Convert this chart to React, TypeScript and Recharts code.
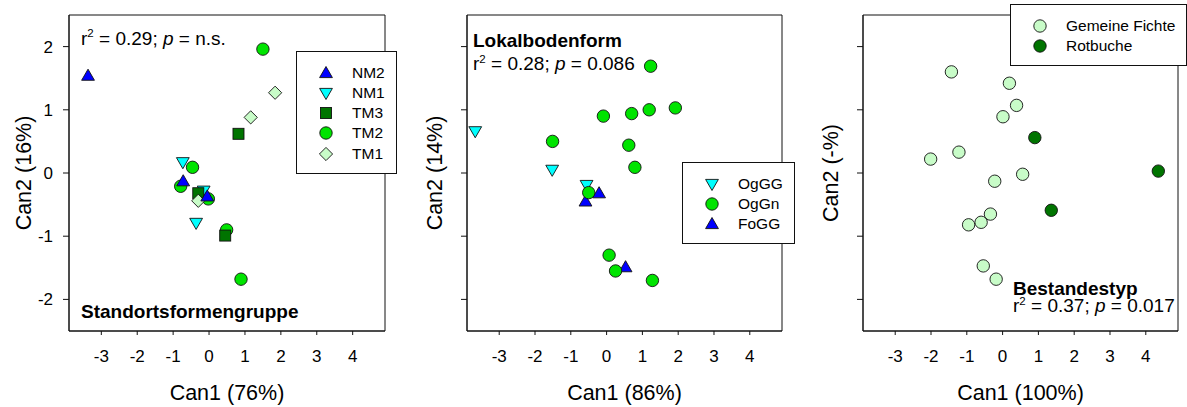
import React from "react";
import { ScatterChart, Scatter, XAxis, YAxis, Legend, ReferenceArea } from "recharts";

// canonical scores
const NM2: [number, number][] = [[-3.37, 1.54], [-0.72, -0.13], [-0.05, -0.37]];
const NM1: [number, number][] = [[-0.73, 0.17], [-0.36, -0.79], [-0.15, -0.28]];
const TM3: [number, number][] = [[0.82, 0.62], [0.45, -0.99], [-0.3, -0.32]];
const TM2: [number, number][] = [
  [1.5, 1.96], [-0.46, 0.09], [-0.79, -0.21], [-0.02, -0.41], [0.49, -0.9], [0.89, -1.68],
];
const TM1: [number, number][] = [[1.84, 1.27], [1.16, 0.88], [-0.3, -0.44]];

const OGGG: [number, number][] = [[-3.67, 0.66], [-1.52, 0.05], [-0.56, -0.19]];
const OGGN: [number, number][] = [
  [1.23, 1.69], [-0.09, 0.9], [0.7, 0.94], [1.19, 1.0], [1.92, 1.03], [-1.51, 0.5],
  [0.62, 0.44], [0.79, 0.09], [-0.5, -0.31], [0.07, -1.3], [0.25, -1.55], [1.28, -1.7],
];
const FOGG: [number, number][] = [[-0.59, -0.45], [-0.21, -0.32], [0.53, -1.49]];

const FICHTE: [number, number][] = [
  [-1.43, 1.6], [0.19, 1.42], [0.39, 1.07], [0.01, 0.89], [-1.22, 0.33], [-2.01, 0.22],
  [0.56, -0.02], [-0.22, -0.13], [-0.34, -0.65], [-0.6, -0.78], [-0.95, -0.82],
  [-0.54, -1.47], [-0.18, -1.68],
];
const ROTBUCHE: [number, number][] = [[0.9, 0.56], [4.35, 0.03], [1.36, -0.59]];

const X_TICKS = [-3, -2, -1, 0, 1, 2, 3, 4];
const Y_TICKS = [-2, -1, 0, 1, 2];
const X_DOMAIN: [number, number] = [-3.9, 4.9];
const Y_DOMAIN: [number, number] = [-2.5, 2.5];

const FONT = "'Liberation Sans', Arial, sans-serif";
const BLUE = "#0000ff";
const CYAN = "#00ffff";
const DARK = "#007400";
const GREEN = "#00e400";
const LIGHT = "#c8fcc8";

type Kind = "up" | "down" | "square" | "circle" | "diamond";

type Group = { name: string; pts: [number, number][]; kind: Kind; color: string };

function Marker({ kind, cx, cy, fill }: { kind: Kind; cx: number; cy: number; fill: string }) {
  const s = { fill, stroke: "#111", strokeWidth: 0.9 };
  if (kind === "circle") return <circle cx={cx} cy={cy} r={6.2} {...s} />;
  if (kind === "square") return <rect x={cx - 5.5} y={cy - 5.5} width={11} height={11} {...s} />;
  if (kind === "diamond")
    return <polygon points={`${cx},${cy - 6.6} ${cx + 6.6},${cy} ${cx},${cy + 6.6} ${cx - 6.6},${cy}`} {...s} />;
  if (kind === "up")
    return <polygon points={`${cx},${cy - 6.5} ${cx + 6.4},${cy + 4.6} ${cx - 6.4},${cy + 4.6}`} {...s} />;
  return <polygon points={`${cx},${cy + 6.5} ${cx + 6.4},${cy - 4.6} ${cx - 6.4},${cy - 4.6}`} {...s} />;
}

function LegendBox({ items, width, height }: { items: Group[]; width: number; height: number }) {
  return (
    <div
      style={{
        position: "relative",
        width,
        height,
        boxSizing: "border-box",
        border: "1px solid #111",
        background: "#fff",
        fontFamily: FONT,
        fontSize: 15.5,
        color: "#000",
      }}
    >
      {items.map((g, i) => (
        <div
          key={g.name}
          style={{ position: "absolute", left: 0, top: 20.5 + i * 20.3 - 10, height: 20, width: "100%" }}
        >
          <svg width={40} height={20} style={{ position: "absolute", left: 9, top: 0 }}>
            <Marker kind={g.kind} cx={20} cy={10} fill={g.color} />
          </svg>
          <span style={{ position: "absolute", left: 55, top: 0, lineHeight: "20px", whiteSpace: "nowrap" }}>
            {g.name}
          </span>
        </div>
      ))}
    </div>
  );
}

type PanelProps = {
  left: number;
  margin: { top: number; right: number; bottom: number; left: number };
  yTitle: string;
  yTitleOffset: number;
  xTitle: string;
  yLabels: boolean;
  draw: Group[];
  legend: Group[];
  legendPos: { left: number; top: number; width: number; height: number };
};

function Panel(p: PanelProps) {
  return (
    <div style={{ position: "absolute", left: p.left, top: 0 }}>
      <ScatterChart width={397} height={407} margin={p.margin}>
        <XAxis
          type="number"
          dataKey="x"
          domain={X_DOMAIN}
          ticks={X_TICKS}
          allowDataOverflow
          height={76}
          tickSize={4}
          tickMargin={15}
          axisLine={{ stroke: "#111" }}
          tickLine={{ stroke: "#111" }}
          tick={{ fill: "#000", fontSize: 17, fontFamily: FONT }}
          label={{
            value: p.xTitle,
            position: "insideBottom",
            offset: 7,
            style: { fill: "#000", fontSize: 21.5, fontFamily: FONT },
          }}
        />
        <YAxis
          type="number"
          dataKey="y"
          domain={Y_DOMAIN}
          ticks={Y_TICKS}
          allowDataOverflow
          width={60}
          tickSize={6}
          tickMargin={10}
          axisLine={{ stroke: "#111" }}
          tickLine={{ stroke: "#111" }}
          tickFormatter={(v: number) => (p.yLabels ? String(v) : "")}
          tick={{ fill: "#000", fontSize: 17, fontFamily: FONT }}
          label={{
            value: p.yTitle,
            angle: -90,
            position: "insideLeft",
            offset: p.yTitleOffset,
            style: { fill: "#000", fontSize: 21.5, fontFamily: FONT, textAnchor: "middle" },
          }}
        />
        {/* plot frame */}
        <ReferenceArea
          x1={X_DOMAIN[0]}
          x2={X_DOMAIN[1]}
          y1={Y_DOMAIN[0]}
          y2={Y_DOMAIN[1]}
          fill="none"
          fillOpacity={0}
          stroke="#111"
          strokeWidth={1}
          ifOverflow="visible"
        />
        {p.draw.map((g) => (
          <Scatter
            key={g.name}
            name={g.name}
            data={g.pts.map(([x, y]) => ({ x, y }))}
            fill={g.color}
            isAnimationActive={false}
            shape={(s: any) => <Marker kind={g.kind} cx={s.cx} cy={s.cy} fill={g.color} />}
          />
        ))}
        <Legend
          layout="vertical"
          align="center"
          verticalAlign="middle"
          wrapperStyle={{ position: "absolute", ...p.legendPos }}
          content={() => <LegendBox items={p.legend} width={p.legendPos.width} height={p.legendPos.height} />}
        />
      </ScatterChart>
    </div>
  );
}

const gNM2: Group = { name: "NM2", pts: NM2, kind: "up", color: BLUE };
const gNM1: Group = { name: "NM1", pts: NM1, kind: "down", color: CYAN };
const gTM3: Group = { name: "TM3", pts: TM3, kind: "square", color: DARK };
const gTM2: Group = { name: "TM2", pts: TM2, kind: "circle", color: GREEN };
const gTM1: Group = { name: "TM1", pts: TM1, kind: "diamond", color: LIGHT };

const gOgGG: Group = { name: "OgGG", pts: OGGG, kind: "down", color: CYAN };
const gOgGn: Group = { name: "OgGn", pts: OGGN, kind: "circle", color: GREEN };
const gFoGG: Group = { name: "FoGG", pts: FOGG, kind: "up", color: BLUE };

const gFichte: Group = { name: "Gemeine Fichte", pts: FICHTE, kind: "circle", color: LIGHT };
const gBuche: Group = { name: "Rotbuche", pts: ROTBUCHE, kind: "circle", color: DARK };

const txt: React.CSSProperties = {
  position: "absolute",
  fontFamily: FONT,
  color: "#000",
  whiteSpace: "nowrap",
};

// top is the baseline; line boxes kept short so the stacked lines do not collide
function Stat({ left, base, r2, pv }: { left: number; base: number; r2: string; pv: string }) {
  return (
    <div style={{ ...txt, left, top: base - 13.6, fontSize: 19, lineHeight: "14px" }}>
      r<span style={{ fontSize: 11.5, position: "relative", top: -7.5 }}>2</span> = {r2}; <i>p</i> = {pv}
    </div>
  );
}

function Title({ left, base, children }: { left: number; base: number; children: string }) {
  return (
    <div style={{ ...txt, left, top: base - 13.6, fontSize: 19, lineHeight: "14px", fontWeight: 700 }}>
      {children}
    </div>
  );
}

export default function App() {
  return (
    <div
      style={{
        position: "absolute",
        left: 0,
        top: 0,
        width: 1187,
        height: 407,
        background: "#fff",
        overflow: "hidden",
      }}
    >
      <Panel
        left={0}
        margin={{ top: 15, right: 12, bottom: 0, left: 9 }}
        yTitle="Can2 (16%)"
        yTitleOffset={14}
        xTitle="Can1 (76%)"
        yLabels
        draw={[gTM2, gNM1, gTM3, gTM1, gNM2]}
        legend={[gNM2, gNM1, gTM3, gTM2, gTM1]}
        legendPos={{ left: 296, top: 51, width: 101, height: 123 }}
      />
      <Panel
        left={397}
        margin={{ top: 15, right: 12, bottom: 0, left: 10 }}
        yTitle="Can2 (14%)"
        yTitleOffset={27}
        xTitle="Can1 (86%)"
        yLabels={false}
        draw={[gOgGG, gFoGG, gOgGn]}
        legend={[gOgGG, gOgGn, gFoGG]}
        legendPos={{ left: 285, top: 162, width: 113, height: 82 }}
      />
      <Panel
        left={790}
        margin={{ top: 15, right: 9, bottom: 0, left: 13 }}
        yTitle="Can2 (-%)"
        yTitleOffset={27}
        xTitle="Can1 (100%)"
        yLabels={false}
        draw={[gFichte, gBuche]}
        legend={[gFichte, gBuche]}
        legendPos={{ left: 220, top: 4, width: 177, height: 62 }}
      />

      <Stat left={81} base={45.5} r2="0.29" pv="n.s." />
      <Title left={81} base={319}>Standortsformengruppe</Title>

      <Title left={473} base={47.3} >Lokalbodenform</Title>
      <Stat left={473} base={70.7} r2="0.28" pv="0.086" />

      <Title left={1013} base={296}>Bestandestyp</Title>
      <Stat left={1013} base={312.7} r2="0.37" pv="0.017" />
    </div>
  );
}
